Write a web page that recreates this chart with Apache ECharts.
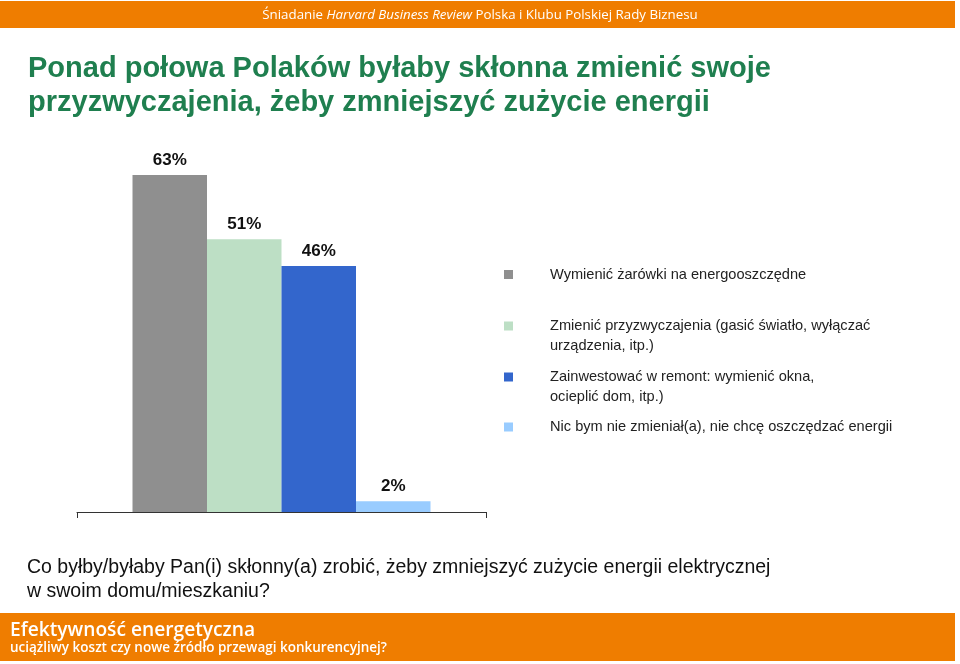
<!DOCTYPE html>
<html><head><meta charset="utf-8">
<script src="https://cdn.jsdelivr.net/npm/echarts@6/dist/echarts.min.js"></script>
<style>html,body{margin:0;padding:0;background:#fff}#c{width:960px;height:664px}</style>
</head><body><div id="c"></div>
<script>
const categories = ['Odpowiedzi'];
const seriesNames = [
  'Wymienić żarówki na energooszczędne',
  'Zmienić przyzwyczajenia (gasić światło, wyłączać\nurządzenia, itp.)',
  'Zainwestować w remont: wymienić okna,\nocieplić dom, itp.)',
  'Nic bym nie zmieniał(a), nie chcę oszczędzać energii'
];
const seriesValues = [63, 51, 46, 2];
const seriesColors = ['#8f8f8f', '#bddfc5', '#3366cc', '#99ccff'];

const chart = echarts.init(document.getElementById('c'));
const FONT = '"Liberation Sans", Arial, sans-serif';
const legendTops = [265, 316.5, 367.5, 417.5];
const legends = seriesNames.map((n, i) => ({
  data: [n], left: 504, top: legendTops[i], orient: 'vertical',
  itemWidth: 9, itemHeight: 9, icon: 'rect', selectedMode: false, padding: 0,
  formatter: (nm) => nm.split('\n')[0],
  textStyle: { fontFamily: FONT, fontSize: 14.6, color: '#222', lineHeight: 19,
    padding: [0, 0, 0, 32] }
}));
const contLines = [];
seriesNames.forEach((n, i) => {
  const parts = n.split('\n');
  if (parts.length > 1) {
    contLines.push({ type: 'text', x: 550, y: legendTops[i] + 9.5 + 19.5, style: {
      text: parts[1], fontFamily: FONT, fontSize: 14.6, fill: '#222', verticalAlign: 'middle' } });
  }
});
chart.setOption({
  animation: false,
  grid: { left: 77, right: 474, top: 137.5, bottom: 152 },
  xAxis: { type: 'category', data: categories, boundaryGap: true,
    axisLine: { lineStyle: { color: '#333', width: 1 } },
    axisTick: { show: true, length: 6, lineStyle: { color: '#333' } },
    axisLabel: { show: false } },
  yAxis: { type: 'value', min: 0, max: 70, show: false, splitLine: { show: false } },
  legend: legends,
  series: seriesNames.map((n, i) => ({
    name: n, type: 'bar', data: [seriesValues[i]],
    barWidth: 74.5, barGap: '0%',
    itemStyle: { color: seriesColors[i] },
    label: { show: true, position: 'top', distance: 6, formatter: '{c}%',
      fontFamily: FONT, fontSize: 17, fontWeight: 'bold', color: '#111' }
  })),
  graphic: contLines.concat([
    { type: 'rect', shape: { x: 0, y: 1, width: 955, height: 27 }, style: { fill: '#ef7d00' } },
    { type: 'text', x: 480, y: 15, style: {
        text: '{n|Śniadanie }{i|Harvard Business Review}{n| Polska i Klubu Polskiej Rady Biznesu}',
        align: 'center', verticalAlign: 'middle',
        rich: { n: { fontFamily: '"Open Sans", sans-serif', fontSize: 13.3, fill: '#fff' },
                i: { fontFamily: '"Open Sans", sans-serif', fontSize: 13.3, fontStyle: 'italic', fill: '#fff' } } } },
    { type: 'text', x: 28, y: 52, style: {
        text: 'Ponad połowa Polaków byłaby skłonna zmienić swoje\nprzyzwyczajenia, żeby zmniejszyć zużycie energii',
        fontFamily: FONT, fontSize: 29, fontWeight: 'bold', fill: '#1f7f4f', lineHeight: 34 } },
    { type: 'text', x: 27, y: 556, style: {
        text: 'Co byłby/byłaby Pan(i) skłonny(a) zrobić, żeby zmniejszyć zużycie energii elektrycznej\nw swoim domu/mieszkaniu?',
        fontFamily: FONT, fontSize: 19.5, fill: '#111', lineHeight: 24 } },
    { type: 'rect', shape: { x: 0, y: 613, width: 955, height: 48 }, style: { fill: '#ef7d00' } },
    { type: 'text', x: 10, y: 631, style: {
        text: 'Efektywność energetyczna', fontFamily: '"Open Sans", sans-serif', fontSize: 19.2, fontWeight: 600, fill: '#fff', verticalAlign: 'middle' } },
    { type: 'text', x: 10, y: 648, style: {
        text: 'uciążliwy koszt czy nowe źródło przewagi konkurencyjnej?', fontFamily: '"Open Sans", sans-serif', fontSize: 13.5, fontWeight: 600, fill: '#fff', verticalAlign: 'middle' } }
  ])
});
</script></body></html>
